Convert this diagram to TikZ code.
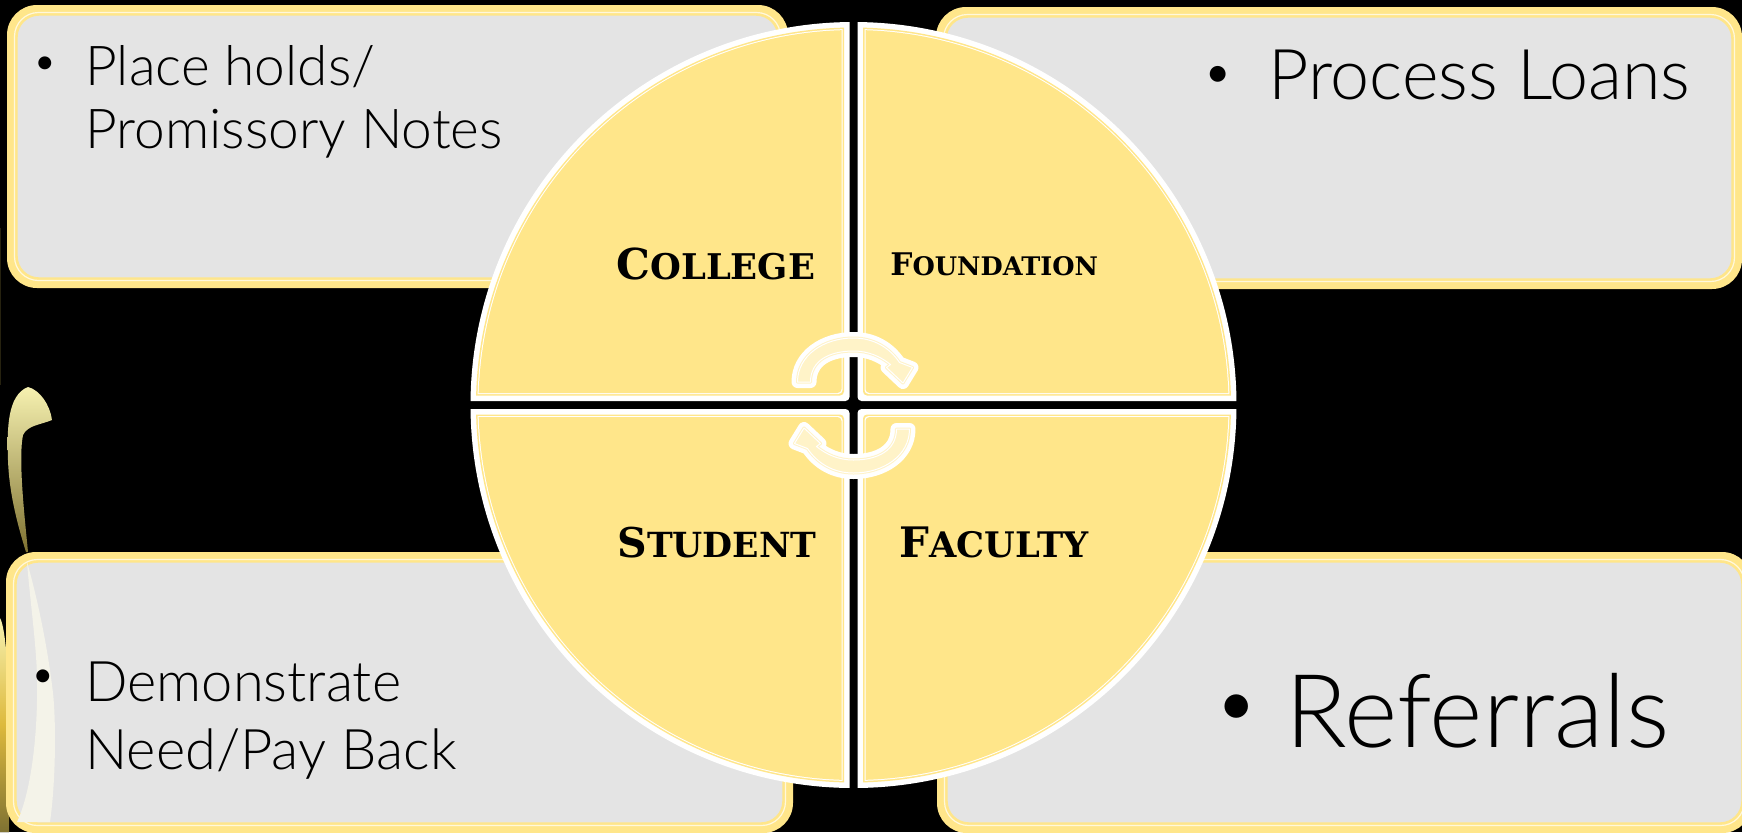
\documentclass[tikz,border=0pt]{standalone}
\usepackage{fontspec}
\setmainfont{Lato}[UprightFont=* Light]
\newfontfamily\labelfont{DejaVu Serif}[BoldFont=* Bold]
\definecolor{panelyellow}{HTML}{FFE68A}
\definecolor{panelgrey}{HTML}{E4E4E4}
\definecolor{arrowpale}{HTML}{FFF3C8}
\definecolor{stalktop}{HTML}{F6F1B0}
\definecolor{stalkmid}{HTML}{DDB93C}
\definecolor{stalkend}{HTML}{7F7232}
\definecolor{swooshpale}{HTML}{F4F3E9}
\tikzset{%
   panelfill/.style={fill=panelyellow},
   panelinner/.style={draw=panelyellow!30!white, line width=.6pt, fill=panelyellow},
   panelgreyin/.style={draw=panelyellow, line width=.7pt, fill=panelgrey},
   arrowhalo/.style={draw=white, line width=6pt, line join=round},
   arrowband/.style={draw=arrowpale, line width=1.5pt, line join=round},
   arrowcore/.style={draw=white, line width=.5pt, line join=round, fill=arrowpale},
   itemtext/.style={anchor=base west, align=left, inner sep=0pt, text=black},
   dotitem/.style={inner sep=0pt, text=black},
   quadname/.style={anchor=base west, inner sep=0pt, text=black, font=\labelfont\bfseries},
}
% first letter large, the rest small
\newcommand\capsname[4]{{\fontsize{#1}{#1}\selectfont #3}{\fontsize{#2}{#2}\selectfont #4}}
\newcommand\arrowpath{(-56,-23.5) .. controls (-56,-50) and (-30,-67.5) .. (0,-67.5)
   .. controls (20,-67.5) and (36,-58) .. (46,-43) -- (59,-38) -- (49.5,-22.5) -- (33,-38) -- (37,-41)
   .. controls (27,-49) and (15,-54.5) .. (0,-54.5)
   .. controls (-24,-54.5) and (-43,-45) .. (-43,-23.5) -- cycle}

\begin{document}
\begin{tikzpicture}[x=.5pt, y=-.5pt]
   \useasboundingbox (0,0) rectangle (1742,832);
   \clip (0,0) rectangle (1742,832);
   \fill[black] (0,0) rectangle (1742,832);
   % the stalks at the left edge
   \fill[black!70!stalkend] (0,228) rectangle (1.2,385);
   \fill[top color=stalktop, bottom color=stalkend, middle color=stalkmid]
      (0,618) .. controls (6,628) and (9,680) .. (9,720) -- (9,832) -- (0,832) -- cycle;
   \fill[top color=stalktop, middle color=stalkmid, bottom color=stalkend]
      (26,552) .. controls (16,520) and (9,490) .. (8,460) .. controls (7,430) and (7,395) .. (28,387)
      .. controls (40,390) and (50,405) .. (52,420) .. controls (40,425) and (28,425) .. (23,435)
      .. controls (18,460) and (25,520) .. (28,552) -- cycle;
   % the four panels
   \foreach \xa/\ya/\xb/\yb in {7/5/788/288, 936/7/1742/289, 6/552/793/833, 937/552/1752/833} {
      \fill[panelfill, rounded corners=15pt] (\xa,\ya) rectangle (\xb,\yb);
      \filldraw[panelinner, rounded corners=12pt] (\xa+7.5,\ya+7.5) rectangle (\xb-7.5,\yb-7.5);
      \filldraw[panelgreyin, rounded corners=11pt] (\xa+10,\ya+10) rectangle (\xb-10,\yb-10);
   }
   % swoosh over the lower left panel
   \fill[swooshpale]
      (27,562) .. controls (30,600) and (37,650) .. (37,680) .. controls (38,730) and (32,790) .. (17,822)
      -- (50,822) .. controls (56,780) and (56,720) .. (53,693) .. controls (48,650) and (38,600) .. (27,562) -- cycle;
   % the circle
   \foreach \sx/\sy in {-1/-1, 1/-1, 1/1, -1/1} {
      \begin{scope}[shift={(853.5,405)}, xscale=\sx, yscale=\sy]
         \foreach \inset/\tint in {0/white, 5.5/panelyellow, 7/white, 8/panelyellow} {
            \begin{scope}
               \clip[rounded corners=2pt] (4+\inset,4+\inset) rectangle (400,400);
               \fill[\tint] (0,0) circle[radius=383-\inset];
            \end{scope}
         }
      \end{scope}
   }
   % the two turning arrows
   \foreach \turn in {0, 180} {
      \begin{scope}[shift={(853.5,405.5)}, rotate=\turn]
         \draw[arrowhalo] \arrowpath;
         \draw[arrowband] \arrowpath;
         \filldraw[arrowcore] \arrowpath;
      \end{scope}
   }
   \node[quadname] (college) at (616,279) {\capsname{21.3}{17.7}{C}{OLLEGE}};
   \node[quadname] (foundation) at (890,275) {\capsname{15.6}{12.8}{F}{OUNDATION}};
   \node[quadname] (student) at (617,557) {\capsname{20.5}{17.3}{S}{TUDENT}};
   \node[quadname] (faculty) at (899,557) {\capsname{21}{17.6}{F}{ACULTY}};
   \node[dotitem, font=\fontsize{22}{22}\selectfont] (placedot) at (45,67) {•};
   \node[itemtext, font=\fontsize{27.5}{31.5}\selectfont] (place) at (85,148) {Place holds/\\Promissory Notes};
   \node[dotitem, font=\fontsize{27}{27}\selectfont] (loansdot) at (1218,78) {•};
   \node[itemtext, font=\fontsize{35}{35}\selectfont] (loans) at (1268,99) {Process Loans};
   \node[dotitem, font=\fontsize{22}{22}\selectfont] (needdot) at (43,680) {•};
   \node[itemtext, font=\fontsize{28}{34}\selectfont] (need) at (85,769) {Demonstrate\\Need/Pay Back};
   \node[dotitem, font=\fontsize{40}{40}\selectfont] (referdot) at (1237,713) {•};
   \node[itemtext, font=\fontsize{51}{51}\selectfont] (refer) at (1285,747) {Referrals};
\end{tikzpicture}
\end{document}
